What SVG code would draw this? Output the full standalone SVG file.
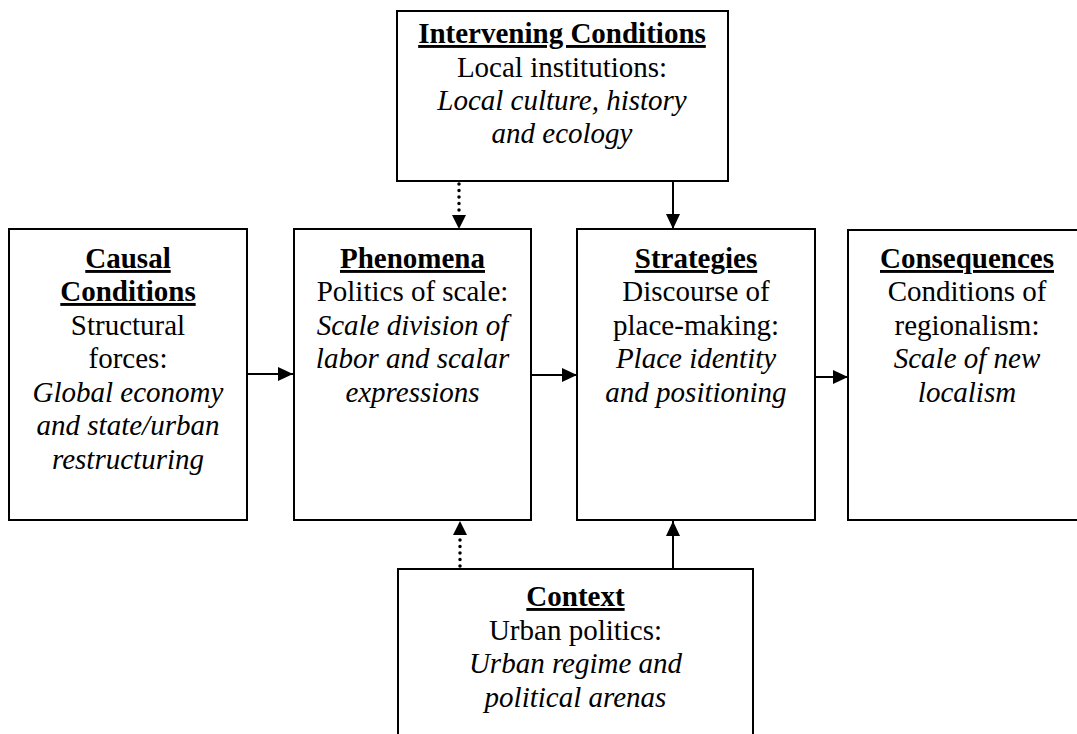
<svg xmlns="http://www.w3.org/2000/svg" width="1077" height="734" viewBox="0 0 1077 734">
  <style>
    .box { fill: #fff; stroke: #000; stroke-width: 2; }
    .t { font-family: "Liberation Serif", "Times New Roman", serif; font-size: 29px; fill: #000; text-anchor: middle; }
    .h { font-weight: bold; text-decoration: underline; }
    .i { font-style: italic; }
    .solid { stroke: #000; stroke-width: 2; fill: none; }
    .dotted { stroke: #000; stroke-width: 3.5; fill: none; stroke-dasharray: 0 6.5; stroke-linecap: round; }
  </style>
  <defs>
    <marker id="arrow" markerUnits="userSpaceOnUse" markerWidth="16" markerHeight="16" refX="15" refY="7" orient="auto">
      <path d="M0,0 L15,7 L0,14 Z" fill="#000"/>
    </marker>
  </defs>
  <rect width="1077" height="734" fill="#fff"/>

  <g id="connectors">
    <line class="solid" x1="247" y1="374" x2="293" y2="374" marker-end="url(#arrow)"/>
    <line class="solid" x1="531" y1="375" x2="577" y2="375" marker-end="url(#arrow)"/>
    <line class="solid" x1="815" y1="377" x2="848" y2="377" marker-end="url(#arrow)"/>
    <line class="dotted" x1="459" y1="184" x2="459" y2="214"/>
    <path d="M452,215 L459,229 L466,215 Z" fill="#000"/>
    <line class="solid" x1="673" y1="181" x2="673" y2="229" marker-end="url(#arrow)"/>
    <line class="dotted" x1="460" y1="566" x2="460" y2="536"/>
    <path d="M453,535 L460,521 L467,535 Z" fill="#000"/>
    <line class="solid" x1="673" y1="569" x2="673" y2="521" marker-end="url(#arrow)"/>
  </g>

  <g id="intervening">
    <rect class="box" x="397" y="11" width="331" height="170"/>
    <text class="t h" x="562" y="43">Intervening Conditions</text>
    <text class="t" x="562" y="77">Local institutions:</text>
    <text class="t i" x="562" y="110">Local culture, history</text>
    <text class="t i" x="562" y="143">and ecology</text>
  </g>

  <g id="causal">
    <rect class="box" x="9" y="229" width="238" height="291"/>
    <text class="t h" x="128" y="268">Causal</text>
    <text class="t h" x="128" y="301">Conditions</text>
    <text class="t" x="128" y="335">Structural</text>
    <text class="t" x="128" y="368">forces:</text>
    <text class="t i" x="128" y="402">Global economy</text>
    <text class="t i" x="128" y="435">and state/urban</text>
    <text class="t i" x="128" y="469">restructuring</text>
  </g>

  <g id="phenomena">
    <rect class="box" x="294" y="229" width="237" height="291"/>
    <text class="t h" x="412.5" y="268">Phenomena</text>
    <text class="t" x="412.5" y="301">Politics of scale:</text>
    <text class="t i" x="412.5" y="335">Scale division of</text>
    <text class="t i" x="412.5" y="368">labor and scalar</text>
    <text class="t i" x="412.5" y="402">expressions</text>
  </g>

  <g id="strategies">
    <rect class="box" x="577" y="229" width="238" height="291"/>
    <text class="t h" x="696" y="268">Strategies</text>
    <text class="t" x="696" y="301">Discourse of</text>
    <text class="t" x="696" y="335">place-making:</text>
    <text class="t i" x="696" y="368">Place identity</text>
    <text class="t i" x="696" y="402">and positioning</text>
  </g>

  <g id="consequences">
    <rect class="box" x="848" y="230" width="238" height="290"/>
    <text class="t h" x="967" y="268">Consequences</text>
    <text class="t" x="967" y="301">Conditions of</text>
    <text class="t" x="967" y="335">regionalism:</text>
    <text class="t i" x="967" y="368">Scale of new</text>
    <text class="t i" x="967" y="402">localism</text>
  </g>

  <g id="context">
    <rect class="box" x="398" y="569" width="355" height="180"/>
    <text class="t h" x="575.5" y="606">Context</text>
    <text class="t" x="575.5" y="640">Urban politics:</text>
    <text class="t i" x="575.5" y="673">Urban regime and</text>
    <text class="t i" x="575.5" y="707">political arenas</text>
  </g>
</svg>
